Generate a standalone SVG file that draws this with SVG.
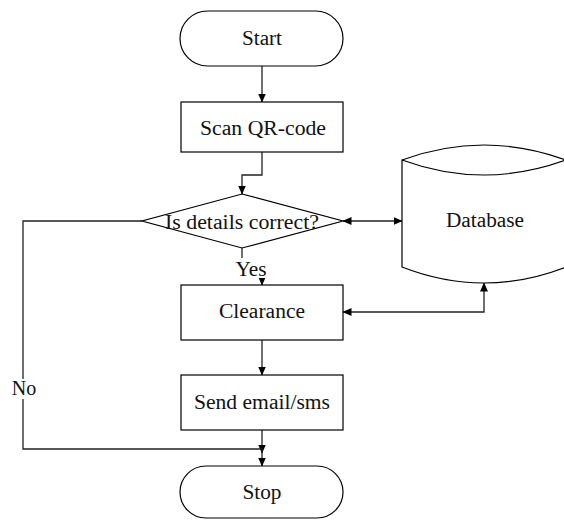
<svg xmlns="http://www.w3.org/2000/svg" width="564" height="520" viewBox="0 0 564 520">
<style>
.s{fill:#fff;stroke:#000;stroke-width:1.2}
.t{font-family:'Liberation Serif','DejaVu Serif',serif;font-size:20px;fill:#111;text-anchor:middle}
.c{fill:none;stroke:#222;stroke-width:1.3}
.bg{fill:#fff}
</style>
<defs>
<marker id="ah" markerWidth="9" markerHeight="8" refX="8.5" refY="4" orient="auto-start-reverse" markerUnits="userSpaceOnUse">
<path d="M0,0 L9,4 L0,8 Z" fill="#000"/>
</marker>
</defs>
<rect width="564" height="520" fill="#fff"/>
<g id="connectors">
<path class="c" d="M262,66 V102" marker-end="url(#ah)"/>
<path class="c" d="M262,152 V175 H242 V194" marker-end="url(#ah)"/>
<path class="c" d="M343,221 H402" marker-start="url(#ah)" marker-end="url(#ah)"/>
<path class="c" d="M242,248 V268 H262 V285" marker-end="url(#ah)"/>
<path class="c" d="M343,312 H484 V283" marker-start="url(#ah)" marker-end="url(#ah)"/>
<path class="c" d="M262,340 V375" marker-end="url(#ah)"/>
<path class="c" d="M262,430 V453" marker-end="url(#ah)"/>
<path class="c" d="M142,221 H23 V449 H262"/>
<path class="c" d="M262,449 V466" marker-end="url(#ah)"/>
<rect class="bg" x="234" y="258" width="38" height="20"/>
<text class="t" font-family="Liberation Serif, serif" x="251" y="276" textLength="31" lengthAdjust="spacingAndGlyphs">Yes</text>
<rect class="bg" x="10" y="379" width="28" height="20"/>
<text class="t" font-family="Liberation Serif, serif" x="24" y="395">No</text>
</g>
<g id="start">
<rect class="s" x="180" y="11" width="163" height="55" rx="27.5"/>
<text class="t" font-family="Liberation Serif, serif" x="262" y="45" textLength="40" lengthAdjust="spacingAndGlyphs">Start</text>
</g>
<g id="scan">
<rect class="s" x="181" y="102" width="162" height="50"/>
<text class="t" font-family="Liberation Serif, serif" x="263" y="135" textLength="126" lengthAdjust="spacingAndGlyphs">Scan QR-code</text>
</g>
<g id="decision">
<path class="s" d="M242,194 L343,221 L242,248 L142,221 Z"/>
<text class="t" font-family="Liberation Serif, serif" x="242" y="229" textLength="154" lengthAdjust="spacingAndGlyphs">Is details correct?</text>
</g>
<g id="database">
<path class="s" d="M402,160 Q484,130 566,160 V267 Q484,299 402,267 Z"/>
<path class="c" style="stroke:#000;stroke-width:1.2" d="M402,160 Q484,190 566,160"/>
<text class="t" font-family="Liberation Serif, serif" x="485" y="227" textLength="78" lengthAdjust="spacingAndGlyphs">Database</text>
</g>
<g id="clearance">
<rect class="s" x="181" y="285" width="162" height="55"/>
<text class="t" font-family="Liberation Serif, serif" x="262" y="318" textLength="86" lengthAdjust="spacingAndGlyphs">Clearance</text>
</g>
<g id="send">
<rect class="s" x="181" y="375" width="162" height="55"/>
<text class="t" font-family="Liberation Serif, serif" x="262" y="409" textLength="136" lengthAdjust="spacingAndGlyphs">Send email/sms</text>
</g>
<g id="stop">
<rect class="s" x="180" y="466" width="163" height="52" rx="26"/>
<text class="t" font-family="Liberation Serif, serif" x="262" y="499" textLength="39" lengthAdjust="spacingAndGlyphs">Stop</text>
</g>
</svg>
